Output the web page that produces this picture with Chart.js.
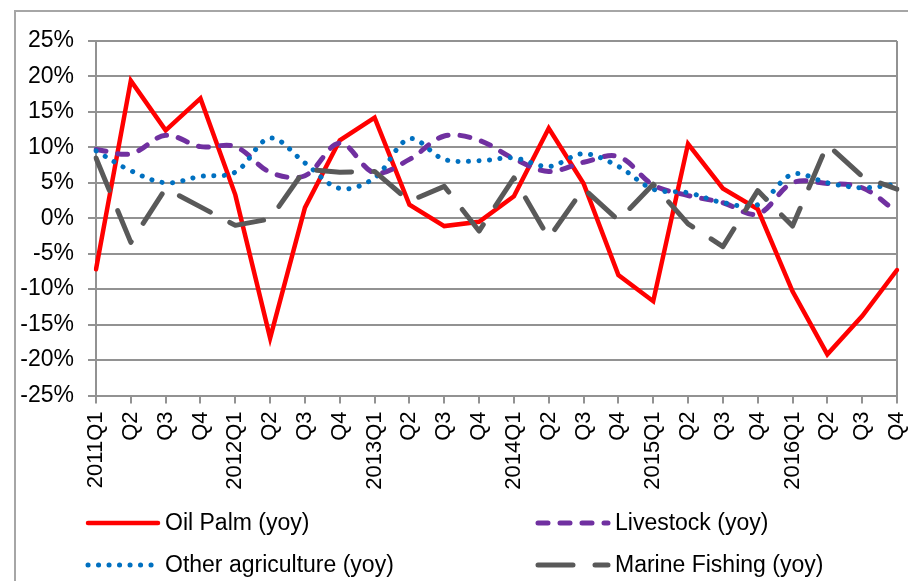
<!DOCTYPE html>
<html>
<head>
<meta charset="utf-8">
<script src="https://cdn.jsdelivr.net/npm/chart.js@4.4.1/dist/chart.umd.min.js"></script>
<style>
  body { margin: 0; background: #fff; }
  canvas { display: block; }
</style>
</head>
<body>
<canvas id="sectorChart" width="908" height="581"></canvas>
<script>
// quarter labels, 2011Q1 .. 2016Q4
const quarters = ['2011Q1', 'Q2', 'Q3', 'Q4', '2012Q1', 'Q2', 'Q3', 'Q4',
    '2013Q1', 'Q2', 'Q3', 'Q4', '2014Q1', 'Q2', 'Q3', 'Q4',
    '2015Q1', 'Q2', 'Q3', 'Q4', '2016Q1', 'Q2', 'Q3', 'Q4'];

// yoy growth, percent
const oilPalm = [-7.2, 19.4, 12.4, 16.9, 3.3, -16.9, 1.5, 11.0, 14.2, 1.9, -1.1, -0.5,
    3.1, 12.7, 4.9, -8.0, -11.7, 10.5, 4.2, 1.3, -10.3, -19.2, -13.8, -7.3];
const livestock = [9.7, 9.1, 11.7, 10.1, 10.1, 6.5, 6.0, 10.6, 6.4, 8.3, 11.6, 11.0,
    8.4, 6.6, 7.9, 8.7, 4.7, 3.2, 2.2, 0.6, 5.0, 4.9, 4.3, 0.9];
const otherAgri = [9.5, 6.7, 5.0, 5.9, 6.5, 11.3, 7.8, 4.2, 5.7, 11.2, 8.3, 8.1,
    8.5, 7.3, 9.1, 7.3, 4.1, 3.6, 2.2, 1.9, 6.2, 5.0, 4.3, 4.8];
const marineFishing = [8.5, -3.4, 4.2, 1.6, -1.0, -0.1, 6.9, 6.5, 6.6, 2.4, 4.5, -1.8,
    5.7, -2.8, 4.2, -0.3, 4.8, -0.8, -4.0, 3.9, -1.1, 10.4, 5.9, 4.1];

const yTicks = [-25, -20, -15, -10, -5, 0, 5, 10, 15, 20, 25];

const FONT = '"Liberation Sans", Arial, sans-serif';
const GRID = '#929292';

// outer frame of the excel chart object
const framePlugin = {
    id: 'frame',
    beforeDraw(chart) {
        const ctx = chart.ctx;
        ctx.save();
        ctx.strokeStyle = '#a6a6a6';
        ctx.lineWidth = 2;
        ctx.strokeRect(15, 11, 1000, 1000);
        ctx.restore();
    }
};

// legend in two columns, like the excel one
const legendPlugin = {
    id: 'twoColLegend',
    afterDraw(chart) {
        const ctx = chart.ctx;
        const cols = [88, 538];
        const rows = [523, 565];
        chart.data.datasets.forEach(function (ds, i) {
            const x = cols[i % 2];
            const y = rows[Math.floor(i / 2)];
            ctx.save();
            ctx.strokeStyle = ds.borderColor;
            ctx.lineWidth = ds.borderWidth;
            ctx.lineCap = ds.borderCapStyle;
            ctx.setLineDash(ds.borderDash || []);
            ctx.beginPath();
            ctx.moveTo(x, y);
            ctx.lineTo(x + 70, y);
            ctx.stroke();
            ctx.setLineDash([]);
            ctx.fillStyle = '#000';
            ctx.font = '23px ' + FONT;
            ctx.textBaseline = 'middle';
            ctx.fillText(ds.label, x + 77, y + 1);
            ctx.restore();
        });
    }
};

const data = {
    labels: quarters,
    datasets: [{
        label: 'Oil Palm (yoy)',
        data: oilPalm,
        borderColor: '#ff0000',
        borderWidth: 4.5,
        borderCapStyle: 'round',
        borderJoinStyle: 'miter',
        tension: 0,
        order: 4
    }, {
        label: 'Livestock (yoy)',
        data: livestock,
        borderColor: '#7030a0',
        borderWidth: 5,
        borderDash: [10, 12],
        borderCapStyle: 'round',
        borderJoinStyle: 'round',
        tension: 0.35,
        order: 3
    }, {
        label: 'Other agriculture (yoy)',
        data: otherAgri,
        borderColor: '#0070c0',
        borderWidth: 5,
        borderDash: [0.1, 10.4],
        borderCapStyle: 'round',
        borderJoinStyle: 'round',
        tension: 0.35,
        order: 2
    }, {
        label: 'Marine Fishing (yoy)',
        data: marineFishing,
        borderColor: '#595959',
        borderWidth: 5,
        borderDash: [35, 22],
        borderCapStyle: 'round',
        borderJoinStyle: 'round',
        tension: 0,
        order: 1
    }]
};

const config = {
    type: 'line',
    data: data,
    options: {
        responsive: false,
        animation: false,
        devicePixelRatio: 1,
        layout: { padding: { top: 41, right: 11, left: 0, bottom: 0 } },
        elements: { point: { radius: 0 } },
        plugins: {
            legend: { display: false },
            tooltip: { enabled: false }
        },
        scales: {
            x: {
                type: 'category',
                offset: false,
                grid: {
                    offset: false,
                    drawOnChartArea: true,
                    color: function (c) { return c.index === quarters.length - 1 ? GRID : 'rgba(0,0,0,0)'; },
                    tickColor: GRID,
                    tickLength: 8,
                    lineWidth: 2
                },
                border: { color: GRID, width: 2 },
                ticks: {
                    autoSkip: false,
                    maxRotation: 90,
                    minRotation: 90,
                    padding: 8,
                    color: '#000',
                    font: { family: FONT, size: 22 }
                },
                afterFit: function (scale) {
                    scale.height = 581 - 395.5;
                    scale.paddingLeft = 0;
                    scale.paddingRight = 0;
                }
            },
            y: {
                min: -25,
                max: 25,
                afterBuildTicks: function (scale) {
                    scale.ticks = yTicks.map(function (v) { return { value: v }; });
                },
                grid: {
                    color: GRID,
                    tickColor: GRID,
                    tickLength: 8,
                    lineWidth: 2
                },
                border: { color: GRID, width: 2 },
                ticks: {
                    padding: 14,
                    color: '#000',
                    font: { family: FONT, size: 23 },
                    callback: function (v) { return v + '%'; }
                },
                afterFit: function (scale) {
                    scale.width = 96;
                }
            }
        }
    },
    plugins: [framePlugin, legendPlugin]
};

new Chart(document.getElementById('sectorChart'), config);
</script>
</body>
</html>
